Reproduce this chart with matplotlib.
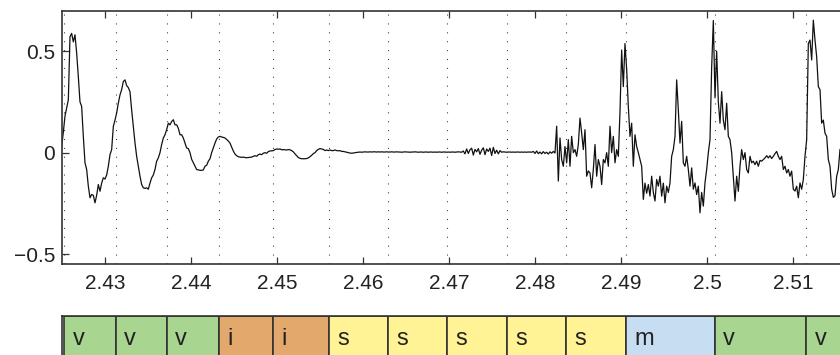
import numpy as np
import matplotlib
matplotlib.use('Agg')
import matplotlib.pyplot as plt

plt.rcParams['font.family'] = ['Liberation Sans', 'DejaVu Sans']

# sampling of the waveform
t_first = 2.42493   # s, first sample
fs = 5160.0         # samples / s

# waveform
wave_vowels = [0.03, 0.10, 0.18, 0.22, 0.26, 0.57, 0.587, 0.545, 0.58, 0.49,
               0.374, 0.25, 0.227, 0.08, -0.05, -0.083, -0.165, -0.222, -0.206, -0.21,
               -0.247, -0.21, -0.157, -0.19, -0.15, -0.124, -0.13, -0.11, -0.067, -0.01,
               0.015, 0.129, 0.16, 0.195, 0.244, 0.284, 0.31, 0.35, 0.358, 0.33,
               0.32, 0.30, 0.21, 0.129, 0.048, -0.018, -0.067, -0.116, -0.157, -0.173,
               -0.176, -0.173, -0.18, -0.15, -0.124, -0.11, -0.083, -0.042, -0.026, 0.0,
               0.04, 0.072, 0.088, 0.113, 0.145, 0.137, 0.153, 0.162, 0.137, 0.137,
               0.12, 0.088, 0.088, 0.072, 0.047, 0.023, 0.02, 0.0, -0.033, -0.05,
               -0.066, -0.083, -0.085, -0.087]
wave_i = [-0.087, -0.085, -0.067, -0.062, -0.042, -0.03, 0.0, 0.023, 0.047, 0.067,
          0.077, 0.08, 0.077, 0.075, 0.072, 0.065, 0.057, 0.047, 0.028, 0.008,
          -0.007, -0.015, -0.02, -0.022, -0.023, -0.022, -0.024, -0.025, -0.024, -0.023,
          -0.022, -0.018, -0.015, -0.018, -0.01, -0.007, -0.01, -0.003, 0.0, -0.003,
          0.005, 0.008, 0.009, 0.01, 0.015, 0.018, 0.017, 0.018, 0.014, 0.015,
          0.014, 0.013, 0.015, 0.014, 0.01, 0.004, -0.006, -0.015, -0.024, -0.028,
          -0.03, -0.03, -0.03, -0.029, -0.026, -0.02, -0.013, -0.005, 0.0, 0.01,
          0.016, 0.02, 0.018, 0.016, 0.01, 0.013, 0.01, 0.013, 0.01, 0.01,
          0.013, 0.01, 0.009, 0.01, 0.006, 0.006]
wave_silence = [0.004, 0.002, 0.0, -0.002, -0.003, -0.002, 0.0, 0.001, 0.002, 0.003,
                0.002, 0.003, 0.004, 0.003, 0.003, 0.004, 0.003, 0.004, 0.004, 0.003,
                0.004, 0.003, 0.004, 0.003, 0.003, 0.004, 0.003, 0.003, 0.004, 0.003,
                0.003, 0.004, 0.003, 0.003, 0.002, 0.003, 0.004, 0.003, 0.003, 0.002,
                0.003, 0.003, 0.004, 0.003, 0.002, 0.003, 0.003, 0.002, 0.003, 0.003,
                0.002, 0.003, 0.003, 0.002, 0.003, 0.002, 0.003, 0.003, 0.002, 0.003,
                0.003, 0.002, 0.003, 0.002, 0.003, 0.003, 0.002, 0.003, 0.004, 0.003,
                0.002,
                0.008, -0.006, 0.018, -0.004, 0.014, 0.022, -0.012, 0.016, 0.004, 0.020,
                -0.008, 0.012, 0.024, -0.010, 0.018, 0.006, 0.022, -0.014, 0.026, -0.004,
                0.012, -0.006, 0.010, 0.002, 0.004,
                0.003, 0.002, 0.003, 0.003, 0.002, 0.003, 0.002, 0.003, 0.003, 0.002,
                0.003, 0.002, 0.003, 0.002, 0.003, 0.003, 0.002,
                0.006, -0.004, 0.008, -0.005]
wave_noisy = [0.003, -0.006, 0.005, -0.004, 0.002, -0.007, 0.004, -0.003, 0.006, -0.002,
              0.13, -0.14, 0.072, -0.034, -0.067, 0.03, -0.05, 0.064, -0.067, 0.08,
              0.0, 0.015, -0.018, 0.04, 0.17, 0.096, 0.015, 0.113, -0.116, -0.09,
              -0.1, -0.173, -0.083, 0.04, -0.116, -0.034, -0.067, -0.157, -0.034, -0.05,
              0.0, -0.067, 0.13, 0.0, 0.08, -0.05, 0.015, -0.018, 0.2, 0.505,
              0.325, 0.537, 0.41, 0.227, 0.08, 0.145, -0.067, 0.088, 0.03, 0.0,
              -0.034, -0.067, -0.23, -0.15, -0.2, -0.157, -0.214, -0.116, -0.196, -0.238,
              -0.132, -0.165, -0.116, -0.214, -0.15, -0.247, -0.165, -0.196]
wave_end = [-0.149, -0.018, 0.015, 0.08, 0.358, 0.21, 0.047, 0.154, -0.05, -0.067,
            -0.018, -0.083, -0.165, -0.075, -0.18, -0.149, -0.206, -0.165, -0.296, -0.196,
            -0.263, -0.149, -0.083, 0.0, 0.064, 0.42, 0.65, 0.27, 0.5, 0.25,
            0.145, 0.3, 0.16, 0.113, 0.243, 0.08, 0.064, 0.0, -0.116, -0.238,
            -0.116, -0.19, -0.067, 0.015, -0.034, 0.0, -0.083, -0.1, -0.018, -0.05,
            -0.042, -0.059, -0.042, -0.067, -0.038, -0.042, -0.034, -0.026, -0.015, -0.026,
            -0.015, -0.029, -0.018, -0.005, 0.006, -0.018, -0.034, -0.018, -0.083, -0.067,
            -0.1, -0.083, -0.116, -0.091, -0.18, -0.189, -0.165, -0.222, -0.149, -0.18,
            -0.132, -0.018, 0.064, 0.537, 0.554, 0.456, 0.652, 0.554, 0.472, 0.325,
            0.31, 0.145, 0.16, 0.096, 0.08, -0.034, -0.067, -0.18, -0.22, -0.212,
            -0.116, -0.083, 0.015]

# segmentation
seg_edges = [2.42523, 2.43121, 2.43717, 2.44322, 2.44953, 2.45601, 2.46292,
             2.46977, 2.47667, 2.48353, 2.49051, 2.50090, 2.51151, 2.5230]
seg_labels = ['v', 'v', 'v', 'i', 'i', 's', 's', 's', 's', 's', 'm', 'v', 'v']
label_colors = {'v': '#a8d590', 'i': '#e3a86b', 's': '#fff396', 'm': '#c6ddf2'}

xticks = [2.43, 2.44, 2.45, 2.46, 2.47, 2.48, 2.49, 2.50, 2.51]
xticklabels = ['2.43', '2.44', '2.45', '2.46', '2.47', '2.48', '2.49', '2.5', '2.51']
yticks = [-0.5, 0, 0.5]
yticklabels = ['\u22120.5', '0', '0.5']

y = np.array(wave_vowels + wave_i + wave_silence + wave_noisy + wave_end)
t = t_first + np.arange(len(y)) / fs

xlim = (2.42497, 2.51776)

fig = plt.figure(figsize=(8.4, 3.55), dpi=100)
ax = fig.add_axes([62/840, 91/355, 798/840, 253/355])
for e in seg_edges[:-1]:
    ax.axvline(e, color='#444444', lw=0.8, linestyle=(0, (1, 7)), zorder=1)
ax.plot(t, y, color='#111111', lw=0.9, zorder=2)
ax.set_xlim(*xlim)
ax.set_ylim(-0.548, 0.697)
ax.set_xticks(xticks)
ax.set_xticklabels(xticklabels)
ax.set_yticks(yticks)
ax.set_yticklabels(yticklabels)
ax.tick_params(direction='in', length=5, width=0.9, color='#333333',
               top=True, right=False, labelsize=15, labelcolor='#222222')
ax.tick_params(axis='x', pad=7.5)
ax.tick_params(axis='y', pad=5)
for s in ax.spines.values():
    s.set_color('#333333')
    s.set_linewidth(1.2)

# label strip
ax2 = fig.add_axes([62/840, -7/355, 798/840, 46/355])
ax2.set_xlim(*xlim)
ax2.set_ylim(0, 1)
ax2.set_xticks([])
ax2.set_yticks([])
for s in ax2.spines.values():
    s.set_color('#333333')
    s.set_linewidth(1.2)
for a, b, lab in zip(seg_edges[:-1], seg_edges[1:], seg_labels):
    ax2.axvspan(a, b, facecolor=label_colors[lab], edgecolor='#333333', lw=1.2)
    ax2.annotate(lab, xy=(a, 0.5), xycoords=('data', 'axes fraction'),
                 xytext=(6, 0), textcoords='offset points',
                 ha='left', va='center', fontsize=17, color='#222222')

fig.savefig('out.png', dpi=100)
